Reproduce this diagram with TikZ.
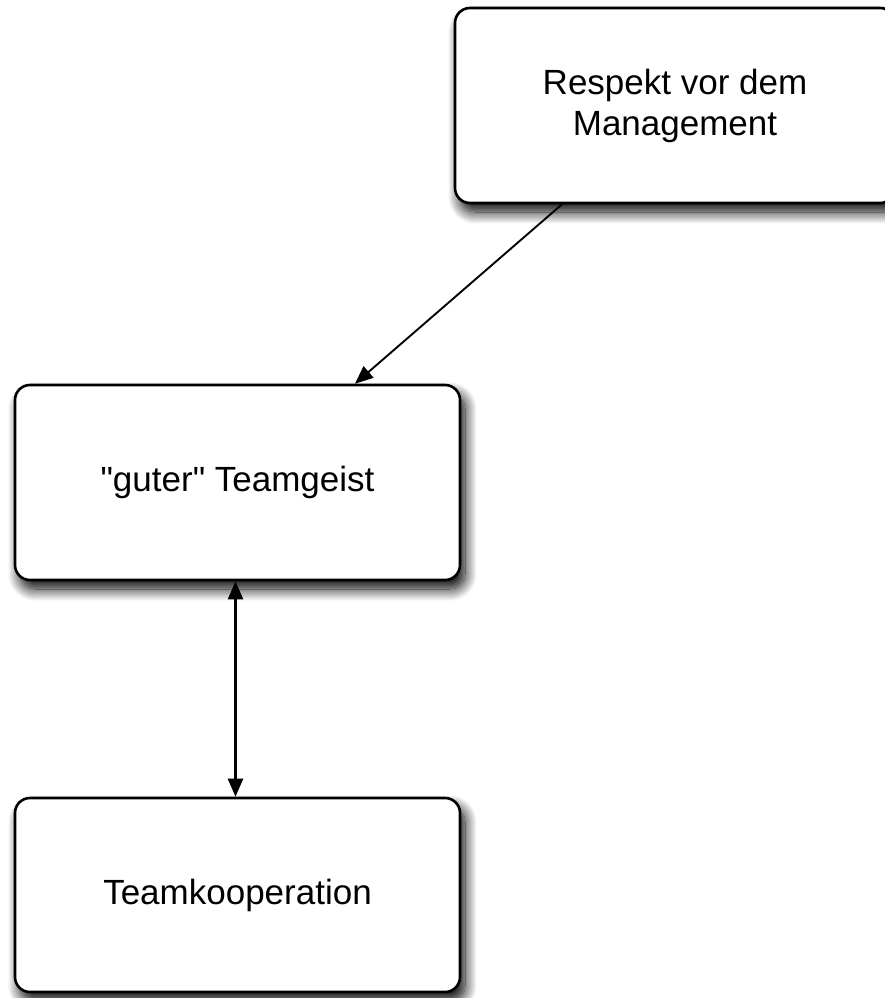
\documentclass[tikz,border=0pt]{standalone}
\usepackage{fontspec}
\setmainfont{Liberation Sans}[Ligatures=TeXOff]
\usetikzlibrary{arrows.meta,shadows.blur,calc}

\tikzset{
  conceptbox/.style={
    draw=black, line width=2.6pt, rounded corners=15pt, fill=white,
    align=center, inner sep=0pt,
    font=\fontsize{35}{41}\selectfont,
    blur shadow={shadow xshift=5pt, shadow yshift=-9pt, shadow blur radius=12pt,
                 shadow blur steps=16, shadow opacity=100}
  },
  link/.style={line width=1.9pt, draw=black},
  tip/.style={-{Triangle[length=18pt,width=15pt]}},
  bothtips/.style={{Triangle[length=18pt,width=15pt]}-{Triangle[length=18pt,width=15pt]}}
}

\begin{document}
\begin{tikzpicture}[x=1pt,y=-1pt]
  \useasboundingbox (0,0) rectangle (884,998);

  \node[conceptbox, minimum width=440pt, minimum height=195pt] (respekt)
    at (675,105.5) {Respekt vor dem\\Management};
  \node[conceptbox, minimum width=445pt, minimum height=195pt] (geist)
    at (237.5,482.5) {"guter" Teamgeist};
  \node[conceptbox, minimum width=445pt, minimum height=194pt] (koop)
    at (237.5,895) {Teamkooperation};

  \draw[link, tip] ([xshift=-113pt]respekt.south) -- ([xshift=117.5pt]geist.north);
  \draw[link, line width=2.4pt, bothtips] ([xshift=-2pt]geist.south) -- ([xshift=-2pt]koop.north);
\end{tikzpicture}
\end{document}
